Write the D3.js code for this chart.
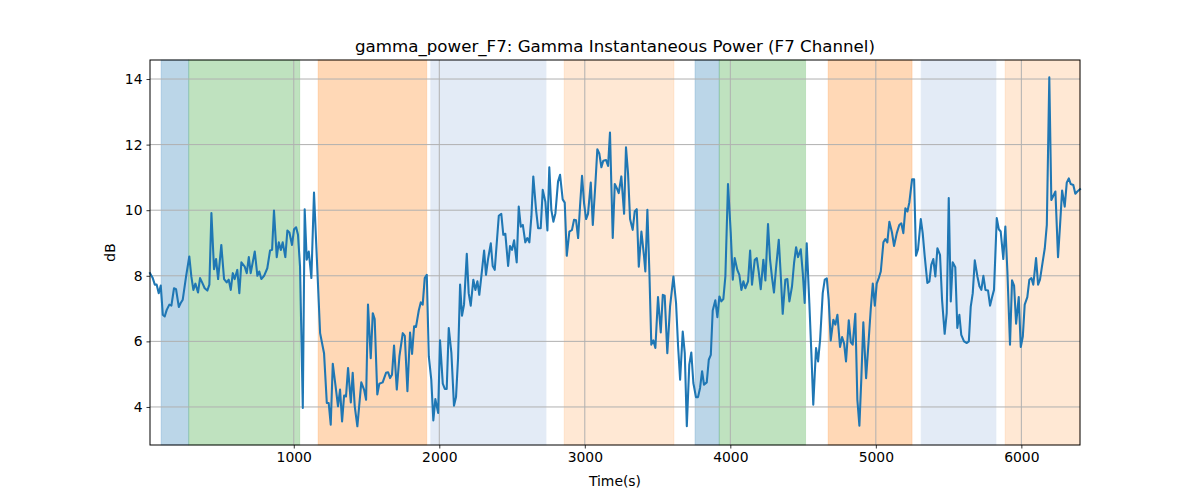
<!DOCTYPE html>
<html>
<head>
<meta charset="utf-8">
<script src="https://cdn.jsdelivr.net/npm/d3@7"></script>
<style>
  body { margin: 0; background: #fff; }
  svg { display: block; font-family: "DejaVu Sans", sans-serif; }
</style>
</head>
<body>
<svg id="chart" width="1200" height="500"></svg>
<script>
// ---- data ----
const times = [12,31,45,58,72,86,100,113,127,145,159,177,191,210,223,237,260,282,296,310,324,342,356,370,388,406,420,434,452,466,480,502,521,539,553,567,581,594,612,626,640,663,677,691,704,732,750,763,777,796,818,837,851,864,883,897,911,924,942,956,970,988,1002,1016,1029,1043,1062,1075,1089,1103,1121,1139,1158,1181,1208,1227,1240,1254,1268,1286,1304,1318,1332,1346,1359,1373,1392,1405,1419,1437,1464,1483,1497,1510,1529,1543,1556,1574,1588,1611,1634,1648,1662,1675,1689,1708,1726,1749,1763,1781,1799,1813,1827,1840,1859,1873,1886,1900,1914,1928,1945,1959,1973,1992,2005,2024,2038,2051,2065,2083,2101,2115,2129,2143,2156,2170,2189,2202,2216,2234,2248,2262,2275,2289,2308,2321,2335,2354,2367,2381,2409,2426,2440,2454,2473,2486,2500,2514,2532,2546,2560,2574,2591,2605,2619,2633,2646,2665,2679,2697,2711,2729,2743,2756,2770,2784,2798,2816,2830,2848,2862,2876,2894,2912,2926,2940,2954,2967,2981,2995,3009,3022,3041,3055,3073,3086,3100,3114,3127,3146,3160,3173,3192,3206,3220,3233,3251,3270,3283,3297,3311,3329,3343,3357,3371,3389,3407,3416,3430,3444,3457,3471,3485,3503,3522,3536,3549,3567,3586,3609,3627,3641,3655,3673,3687,3701,3718,3732,3746,3764,3778,3792,3806,3819,3838,3852,3866,3879,3897,3911,3925,3938,3952,3966,3984,4003,4017,4030,4048,4062,4076,4090,4103,4122,4136,4149,4168,4182,4195,4209,4227,4241,4259,4273,4287,4300,4314,4333,4347,4360,4378,4392,4406,4424,4438,4452,4465,4484,4498,4511,4525,4543,4557,4570,4589,4603,4617,4635,4649,4663,4676,4690,4708,4722,4736,4754,4768,4782,4795,4814,4828,4841,4859,4873,4887,4900,4914,4933,4951,4965,4979,4993,5006,5020,5034,5052,5065,5079,5093,5111,5125,5144,5161,5175,5189,5203,5217,5230,5249,5263,5276,5290,5309,5322,5336,5354,5368,5381,5395,5409,5423,5441,5455,5473,5487,5501,5515,5528,5546,5560,5574,5587,5606,5625,5639,5652,5666,5680,5698,5712,5725,5739,5753,5771,5785,5799,5812,5831,5845,5858,5876,5890,5904,5922,5936,5950,5964,5982,5996,6010,6023,6041,6055,6069,6082,6101,6115,6128,6147,6161,6175,6192,6206,6220,6234,6252,6266,6280,6298,6312,6326,6339,6357,6371,6385,6403];
const values = [8.08,7.93,7.73,7.73,7.47,7.70,6.81,6.76,6.96,7.12,7.09,7.62,7.59,7.05,7.17,7.27,7.98,8.59,7.98,7.57,7.76,7.49,7.93,7.80,7.62,7.55,7.73,9.91,8.20,8.51,7.90,8.94,7.90,7.80,7.88,7.57,8.08,7.90,8.18,7.47,8.41,8.28,8.08,8.57,8.08,8.74,8.00,8.13,7.90,8.00,8.23,8.77,8.79,9.99,8.57,9.02,8.79,9.02,8.57,9.38,9.32,8.94,9.42,9.48,9.25,8.28,3.97,10.03,8.49,8.74,7.93,10.54,8.59,6.25,5.64,4.12,4.12,3.46,5.32,4.68,4.02,4.53,3.56,4.35,4.32,5.19,4.14,5.04,4.02,3.41,4.75,4.53,4.22,7.12,5.49,6.86,6.68,4.38,4.71,4.75,5.04,5.06,4.88,4.98,5.87,4.53,5.54,6.25,6.17,4.48,6.27,5.62,6.46,6.44,6.94,7.19,7.12,7.93,8.03,5.54,4.83,3.59,4.24,3.82,6.03,4.71,4.55,4.55,6.41,5.66,4.04,4.30,5.49,7.73,6.78,7.12,8.67,7.47,7.09,7.88,7.57,7.83,7.42,7.98,8.77,8.03,8.51,8.99,8.30,8.18,9.83,9.89,9.25,9.28,8.30,8.91,8.79,9.08,8.41,10.11,9.50,9.55,9.02,9.15,9.02,9.81,11.03,10.01,9.45,9.45,10.62,10.26,9.38,11.31,10.01,9.65,9.91,10.87,11.08,10.33,10.23,8.61,9.35,9.40,9.71,9.69,9.15,10.11,11.05,10.21,9.73,9.89,10.84,9.55,10.82,11.86,11.72,11.31,11.51,11.53,11.35,12.37,9.15,10.80,10.67,10.52,11.03,9.89,11.92,11.13,9.73,9.40,9.96,10.03,8.28,9.35,8.59,8.13,10.01,8.08,5.90,6.03,5.80,7.35,6.27,7.42,7.39,5.64,7.07,7.98,7.17,5.85,4.83,6.30,5.64,3.41,5.29,5.66,4.73,4.30,4.30,4.58,5.09,4.68,4.75,5.44,5.59,6.94,7.25,6.74,7.37,7.22,7.29,7.98,10.80,9.30,7.88,8.54,8.18,8.03,7.57,7.83,7.62,7.83,8.77,7.73,8.49,8.54,8.13,7.59,8.49,7.86,9.58,8.49,7.93,7.49,8.23,9.10,7.98,6.84,7.88,7.90,7.22,7.68,8.39,8.87,8.57,8.81,8.08,7.17,8.99,7.17,5.64,4.07,5.80,5.39,6.05,7.47,7.88,7.92,7.27,6.03,6.66,6.51,6.81,5.83,6.13,5.93,5.39,6.64,5.97,5.90,6.84,4.22,3.43,4.83,6.58,4.88,6.05,6.98,7.76,7.09,7.76,7.93,8.13,9.02,9.12,9.02,9.65,9.32,8.91,9.30,9.55,9.60,9.30,10.06,9.96,10.23,10.94,10.94,8.61,8.81,9.73,9.30,8.59,7.78,7.83,8.33,8.51,7.98,8.84,8.64,7.27,6.23,6.86,10.37,7.22,8.41,8.26,6.41,6.81,6.20,6.00,5.95,6.00,7.05,7.47,8.47,7.98,7.68,7.57,8.00,7.57,7.55,7.09,7.35,7.57,9.76,9.42,9.35,8.51,9.50,8.13,5.90,7.86,7.70,6.54,7.35,5.83,6.15,7.12,7.35,7.88,7.93,7.73,8.54,7.73,7.88,8.44,8.84,9.55,14.05,10.31,10.44,10.57,8.57,9.55,10.60,10.11,10.84,10.97,10.80,10.77,10.50,10.57,10.64];

// shaded periods: start, end, kind
const spanStarts = [88, 278, 1167, 1941, 2858, 3757, 3924, 4672, 5311, 5888];
const spanEnds   = [278, 1041, 1914, 2734, 3613, 3924, 4517, 5249, 5826, 6403];
const spanKinds  = ["blue", "green", "orange", "lightblue", "peach", "blue", "green", "orange", "lightblue", "peach"];

const xTicks = [1000, 2000, 3000, 4000, 5000, 6000];
const yTicks = [4, 6, 8, 10, 12, 14];
const titleText = "gamma_power_F7: Gamma Instantaneous Power (F7 Channel)";
const xLabel = "Time(s)";
const yLabel = "dB";

// ---- styles ----
const spanStyle = {
  blue:      { fill: "#1f77b4", op: 0.3 },
  green:     { fill: "#2ca02c", op: 0.3 },
  orange:    { fill: "#ff7f0e", op: 0.3 },
  lightblue: { fill: "#e3ebf6", op: 1.0 },
  peach:     { fill: "#ff7f0e", op: 0.18 }
};

const margin = { left: 150, right: 120, top: 60, bottom: 55 };
const W = 1200, H = 500;
const iw = W - margin.left - margin.right;
const ih = H - margin.top - margin.bottom;

const svg = d3.select("#chart");
const g = svg.append("g").attr("transform", `translate(${margin.left},${margin.top})`);

const x = d3.scaleLinear().domain([12, 6403]).range([0, iw]);
const y = d3.scaleLinear().domain([2.84, 14.58]).range([ih, 0]);

// spans
const spans = spanStarts.map((s, i) => ({ s, e: spanEnds[i], k: spanKinds[i] }));
g.selectAll("rect.span").data(spans).enter().append("rect")
  .attr("class", "span")
  .attr("x", d => x(d.s))
  .attr("width", d => x(d.e) - x(d.s))
  .attr("y", 0).attr("height", ih)
  .attr("fill", d => spanStyle[d.k].fill)
  .attr("fill-opacity", d => spanStyle[d.k].op)
  .attr("stroke", d => spanStyle[d.k].fill)
  .attr("stroke-opacity", d => spanStyle[d.k].op * 0.6)
  .attr("stroke-width", 1);

// grid
g.append("g").selectAll("line").data(xTicks).enter().append("line")
  .attr("x1", d => x(d)).attr("x2", d => x(d))
  .attr("y1", 0).attr("y2", ih)
  .attr("stroke", "#b0b0b0").attr("stroke-width", 1);
g.append("g").selectAll("line").data(yTicks).enter().append("line")
  .attr("y1", d => y(d)).attr("y2", d => y(d))
  .attr("x1", 0).attr("x2", iw)
  .attr("stroke", "#b0b0b0").attr("stroke-width", 1);

// line
const pts = times.map((t, i) => [t, values[i]]);
g.append("path")
  .datum(pts)
  .attr("fill", "none")
  .attr("stroke", "#1f77b4")
  .attr("stroke-width", 2.08)
  .attr("stroke-linejoin", "round")
  .attr("stroke-linecap", "square")
  .attr("d", d3.line().x(d => x(d[0])).y(d => y(d[1])));

// axes
const xAxis = g.append("g").attr("transform", `translate(0,${ih})`)
  .call(d3.axisBottom(x).tickValues(xTicks).tickSize(3.5).tickPadding(4).tickFormat(d3.format("d")));
const yAxis = g.append("g")
  .call(d3.axisLeft(y).tickValues(yTicks).tickSize(3.5).tickPadding(4).tickFormat(d3.format("d")));
[xAxis, yAxis].forEach(a => {
  a.select(".domain").remove();
  a.selectAll("text").attr("font-size", "13.9px").attr("fill", "#000").attr("font-family", "DejaVu Sans, sans-serif");
  a.selectAll("line").attr("stroke", "#000").attr("stroke-width", 0.8);
});

// frame
g.append("rect").attr("x", 0).attr("y", 0).attr("width", iw).attr("height", ih)
  .attr("fill", "none").attr("stroke", "#000").attr("stroke-width", 1);

// labels
svg.append("text").attr("x", margin.left + iw / 2).attr("y", 52)
  .attr("text-anchor", "middle").attr("font-size", "16.67px").attr("fill", "#000")
  .text(titleText);
svg.append("text").attr("x", margin.left + iw / 2).attr("y", 486)
  .attr("text-anchor", "middle").attr("font-size", "13.9px").attr("fill", "#000")
  .text(xLabel);
svg.append("text").attr("transform", `translate(115,${margin.top + ih / 2}) rotate(-90)`)
  .attr("text-anchor", "middle").attr("font-size", "13.9px").attr("fill", "#000")
  .text(yLabel);
</script>
</body>
</html>
